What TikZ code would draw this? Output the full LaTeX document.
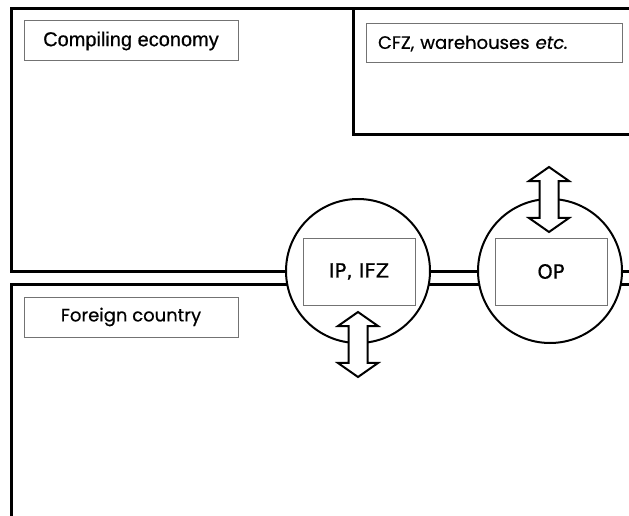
\documentclass[tikz,border=0pt]{standalone}
\usepackage{fontspec}
\setmainfont{Liberation Sans}[FakeBold=0.6,AutoFakeBold=0.6]
\newfontfamily\gothic{Poppins}
\newfontfamily\verd{DejaVu Sans}
\usetikzlibrary{shapes.arrows}

\tikzset{
  region/.style={line width=3pt},
  tagbox/.style={draw=black!55, line width=1pt, minimum height=40pt, inner sep=0pt},
  port/.style={circle, draw, line width=2pt, fill=white, minimum size=144pt, inner sep=0pt},
  flow/.style={double arrow, draw, line width=2pt, fill=white, rotate=90,
    minimum height=65pt, inner sep=8.5pt, double arrow head extend=10.5pt,
    double arrow tip angle=110}
}

\begin{document}
\begin{tikzpicture}[x=1pt,y=-1pt]
\useasboundingbox (0,0) rectangle (629,516);

% economy and foreign country
\draw[region] (640,9) -- (11,9) -- (11,271) -- (640,271);
\draw[region] (353,9) -- (353,135) -- (640,135);
\draw[region] (640,284) -- (11,284) -- (11,530);

% ports
\node[port] (ip) at (358,271) {};
\node[port] (op) at (550,271) {};

% labels
\node[tagbox, minimum width=214pt, font=\addfontfeature{FakeBold=0.6}\fontsize{20}{24}\selectfont] (home) at (131,41) {Compiling economy};
\node[tagbox, text width=232pt, inner xsep=12pt, minimum height=39pt, align=left,
  font=\gothic\addfontfeature{FakeBold=0.6}\fontsize{18}{22}\selectfont] (cfz) at (494,43.5) {CFZ, warehouses \textit{etc.}};
\node[tagbox, minimum width=214pt, font=\gothic\addfontfeature{FakeBold=0.6}\fontsize{18}{22}\selectfont] (abroad) at (131,317) {Foreign country};
\node[tagbox, minimum width=112pt, minimum height=67pt, font=\verd\addfontfeature{FakeBold=0.6}\fontsize{19.5}{23}\selectfont] (ipbox) at (359,271.5) {IP, IFZ};
\node[tagbox, minimum width=112pt, minimum height=67pt, font=\verd\addfontfeature{FakeBold=0.6}\fontsize{19.5}{23}\selectfont] (opbox) at (551,271.5) {OP};

% flows across the ports
\node[flow] (ipflow) at (358,344.5) {};
\node[flow] (opflow) at (549,199.5) {};
\end{tikzpicture}
\end{document}
